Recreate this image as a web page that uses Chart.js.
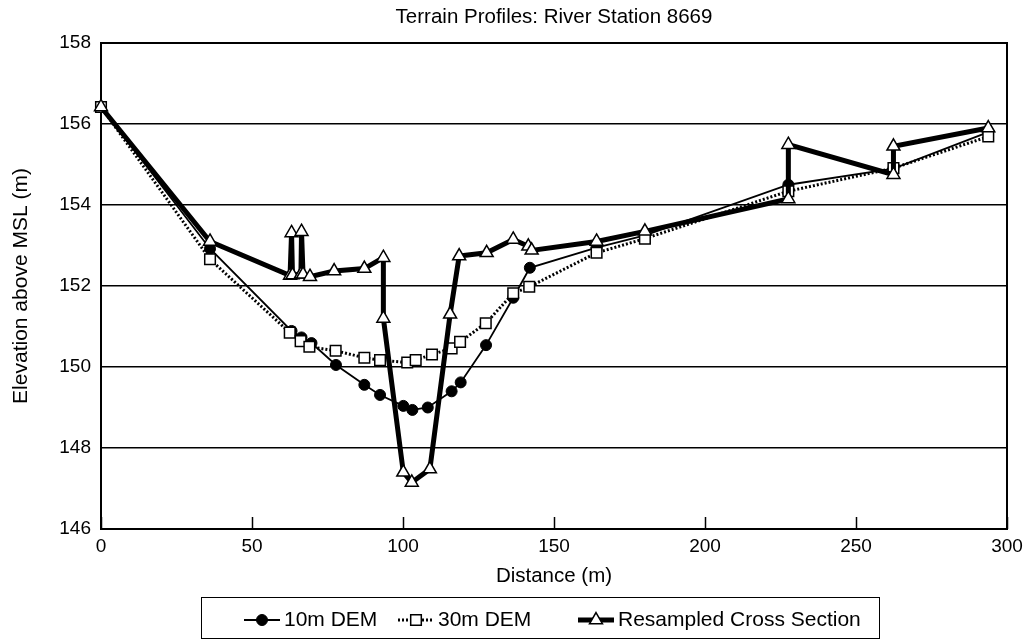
<!DOCTYPE html>
<html>
<head>
<meta charset="utf-8">
<script src="https://cdn.jsdelivr.net/npm/chart.js@4.4.1/dist/chart.umd.min.js"></script>
<style>
  html, body { margin: 0; padding: 0; background: #fff; }
  #wrap { width: 1031px; height: 640px; }
</style>
</head>
<body>
<div id="wrap"><canvas id="profileChart" width="1031" height="640"></canvas></div>
<script>
// distances (m) and elevations (m)
const dist10m = [0, 36.1, 63.1, 66.4, 69.7, 77.8, 87.2, 92.4, 100.1, 103.1, 108.2, 116.1, 119.1, 127.5, 136.5, 142.0, 164.1, 180.1, 227.6, 262.4, 293.8];
const elev10m = [156.42, 152.92, 150.89, 150.73, 150.59, 150.05, 149.56, 149.31, 149.04, 148.94, 149.0, 149.4, 149.62, 150.54, 151.71, 152.45, 152.95, 153.25, 154.5, 154.9, 155.8];

const dist30m = [0, 36.1, 62.5, 66.1, 69.0, 77.7, 87.2, 92.4, 101.4, 104.2, 109.6, 116.1, 118.9, 127.4, 136.5, 141.8, 164.1, 180.1, 227.6, 262.4, 293.8];
const elev30m = [156.42, 152.66, 150.85, 150.64, 150.5, 150.4, 150.23, 150.17, 150.11, 150.17, 150.31, 150.46, 150.62, 151.08, 151.82, 151.98, 152.82, 153.17, 154.34, 154.91, 155.69];

const distXs = [0, 36.1, 62.6, 63.1, 63.4, 66.2, 66.4, 66.9, 69.2, 77.2, 87.2, 93.5, 93.5, 100.1, 102.9, 108.9, 115.6, 118.6, 127.7, 136.5, 141.5, 142.6, 164.1, 180.1, 227.6, 227.6, 262.4, 262.4, 293.8];
const elevXs = [156.42, 153.1, 152.26, 153.31, 152.27, 152.29, 153.34, 152.29, 152.23, 152.37, 152.43, 152.7, 151.2, 147.4, 147.15, 147.48, 151.3, 152.74, 152.82, 153.15, 152.98, 152.88, 153.1, 153.35, 154.15, 155.49, 154.75, 155.45, 155.9];

const seriesNames = ['10m DEM', '30m DEM', 'Resampled Cross Section'];
const xTicks = [0, 50, 100, 150, 200, 250, 300];
const yTicks = [146, 148, 150, 152, 154, 156, 158];

const FONT = "'Liberation Sans', Arial, sans-serif";

function toPoints(xs, ys) {
    return xs.map((x, i) => ({ x: x, y: ys[i] }));
}

// outer frame + short inward ticks on the distance axis
const frameAndTicks = {
    id: 'frameAndTicks',
    beforeDatasetsDraw(chart) {
        const { ctx, chartArea: a, scales: { x } } = chart;
        ctx.save();
        ctx.strokeStyle = '#000';
        ctx.lineWidth = 1.5;
        x.ticks.forEach(t => {
            const px = Math.round(x.getPixelForValue(t.value)) + 0.5;
            ctx.beginPath();
            ctx.moveTo(px, a.bottom);
            ctx.lineTo(px, a.bottom - 12);
            ctx.stroke();
        });
        ctx.lineWidth = 2;
        ctx.strokeRect(a.left, a.top, a.right - a.left, a.bottom - a.top);
        ctx.restore();
    }
};

// boxed legend under the axis title, line sample + marker per series
const boxLegend = {
    id: 'boxLegend',
    afterDraw(chart) {
        const ctx = chart.ctx;
        const slots = [262, 416, 596];
        const midY = 620;
        ctx.save();
        ctx.strokeStyle = '#000';
        ctx.lineWidth = 1;
        ctx.strokeRect(201.5, 597.5, 678, 41);
        chart.data.datasets.forEach((ds, i) => {
            const cx = slots[i];
            ctx.strokeStyle = '#000';
            ctx.lineWidth = ds.borderWidth;
            ctx.setLineDash(ds.borderDash || []);
            ctx.beginPath();
            ctx.moveTo(cx - 18, midY);
            ctx.lineTo(cx + 18, midY);
            ctx.stroke();
            ctx.setLineDash([]);
            ctx.fillStyle = ds.pointBackgroundColor;
            ctx.strokeStyle = '#000';
            ctx.lineWidth = ds.pointBorderWidth;
            Chart.helpers.drawPoint(ctx, {
                pointStyle: ds.pointStyle,
                radius: ds.pointRadius,
                rotation: 0,
                borderWidth: ds.pointBorderWidth
            }, cx, midY);
            ctx.fillStyle = '#000';
            ctx.font = '21px ' + FONT;
            ctx.textBaseline = 'middle';
            ctx.textAlign = 'left';
            ctx.fillText(ds.label, cx + 22, midY);
        });
        ctx.restore();
    }
};

const ctx = document.getElementById('profileChart').getContext('2d');
new Chart(ctx, {
    type: 'line',
    data: {
        datasets: [{
            label: seriesNames[0],
            data: toPoints(dist10m, elev10m),
            borderColor: '#000',
            borderWidth: 1.8,
            pointStyle: 'circle',
            pointRadius: 5.5,
            pointBackgroundColor: '#000',
            pointBorderColor: '#000',
            pointBorderWidth: 1,
            clip: false,
            order: 3
        }, {
            label: seriesNames[1],
            data: toPoints(dist30m, elev30m),
            borderColor: '#000',
            borderWidth: 3,
            borderDash: [2, 2],
            pointStyle: 'rect',
            pointRadius: 7.5,
            pointBackgroundColor: '#fff',
            pointBorderColor: '#000',
            pointBorderWidth: 1.5,
            clip: false,
            order: 2
        }, {
            label: seriesNames[2],
            data: toPoints(distXs, elevXs),
            borderColor: '#000',
            borderWidth: 5,
            pointStyle: 'triangle',
            pointRadius: 7.5,
            pointBackgroundColor: '#fff',
            pointBorderColor: '#000',
            pointBorderWidth: 1.5,
            clip: false,
            order: 1
        }]
    },
    options: {
        responsive: false,
        animation: false,
        layout: {
            padding: { left: 0, right: 24, top: 0, bottom: 51 }
        },
        scales: {
            x: {
                type: 'linear',
                min: 0,
                max: 300,
                afterBuildTicks: scale => { scale.ticks = xTicks.map(v => ({ value: v })); },
                afterFit: scale => { scale.height = 60; },
                ticks: {
                    color: '#000',
                    font: { size: 19, family: FONT },
                    padding: 6,
                    maxRotation: 0
                },
                grid: { display: false, drawTicks: false },
                border: { display: true, color: '#000', width: 2 },
                title: {
                    display: true,
                    text: 'Distance (m)',
                    color: '#000',
                    font: { size: 20.5, family: FONT },
                    padding: { top: 0, bottom: 0 }
                }
            },
            y: {
                min: 146,
                max: 158,
                afterBuildTicks: scale => { scale.ticks = yTicks.map(v => ({ value: v })); },
                afterFit: scale => { scale.width = 101; },
                ticks: {
                    color: '#000',
                    font: { size: 19, family: FONT },
                    padding: 10
                },
                grid: { color: '#000', lineWidth: 1.5, drawTicks: false },
                border: { display: true, color: '#000', width: 2 },
                title: {
                    display: true,
                    text: 'Elevation above MSL (m)',
                    color: '#000',
                    font: { size: 21, family: FONT },
                    padding: { top: 9, bottom: 0 }
                }
            }
        },
        plugins: {
            legend: { display: false },
            tooltip: { enabled: false },
            title: {
                display: true,
                fullSize: false,
                text: 'Terrain Profiles: River Station 8669',
                color: '#000',
                font: { size: 20.5, family: FONT, weight: 'normal' },
                padding: { top: 5, bottom: 13.4 }
            }
        }
    },
    plugins: [frameAndTicks, boxLegend]
});
</script>
</body>
</html>
